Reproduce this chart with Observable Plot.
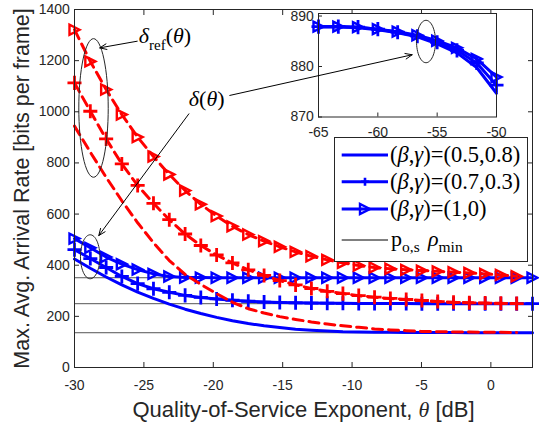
<!DOCTYPE html>
<html><head><meta charset="utf-8">
<script src="https://cdn.jsdelivr.net/npm/d3@7"></script>
<script src="https://cdn.jsdelivr.net/npm/@observablehq/plot@0.6"></script>
<style>
body{margin:0;background:#fff;}
#wrap{position:relative;width:539px;height:425px;overflow:hidden;background:#fff;}
#wrap > *{position:absolute;}
</style></head><body><div id="wrap"></div>
<script>
// ---------------- data ----------------
const theta = [-30, -28.86, -27.72, -26.59, -25.45, -24.31, -23.17, -22.03, -20.9, -19.76,
  -18.62, -17.48, -16.34, -15.21, -14.07, -12.93, -11.79, -10.66, -9.52, -8.38,
  -7.24, -6.1, -4.97, -3.83, -2.69, -1.55, -0.41, 0.72, 1.86, 3.0];
// delta(theta): blue
const blueA = [424, 388, 354, 323, 295, 270, 248, 228, 211, 196, 183, 172, 163, 156, 150, 146, 143, 140, 139, 138, 137.5, 137, 137, 136.5, 136.5, 136, 136, 136, 136, 136];
const blueB = [461, 426, 391, 356, 328, 308, 294, 282, 274, 268, 263, 259, 256, 254, 253, 252, 251.5, 251, 250.5, 250, 250, 250, 249.5, 249.5, 249.5, 249.5, 249.5, 249.5, 249.5, 249.5];
const blueC = [504, 468, 432, 404, 383, 366, 356, 352, 351.5, 351, 351, 351, 351, 351, 351, 351, 351, 351, 351, 351, 351, 351, 351, 351, 351, 351, 351, 351, 351, 351];
// delta_ref(theta): red (one point fewer)
const redA = [944, 842, 744, 652, 566, 488, 418, 364, 325, 289, 255, 230, 213, 199, 188, 178, 170, 163, 157, 151, 147, 144, 141, 140, 139, 138.5, 138, 137.5, 137];
const redB = [1113, 1002, 894, 796, 712, 642, 578, 522, 477, 440, 409, 382, 360, 340, 323, 309, 298, 289, 281, 275, 270, 266, 262, 258, 255, 253, 252, 251, 250];
const redC = [1321, 1197, 1087, 989, 901, 825, 755, 692, 638, 592, 552, 520, 494, 472, 452, 435, 421, 409, 399, 391, 386, 382, 379, 376, 373, 370, 366, 362, 357];
// p_os * rho_min levels
const rhoLevels = [136, 249.5, 351];
// inset
const insetTheta = [-65, -63.33, -61.67, -60, -58.33, -56.67, -55, -53.33, -51.67, -50];
const insetA = [887.9, 887.9, 887.7, 887.3, 886.7, 885.9, 884.5, 882.7, 879.8, 874.7];
const insetB = [887.9, 887.9, 887.8, 887.4, 886.8, 886.0, 884.8, 883.2, 880.7, 876.3];
const insetC = [887.9, 887.9, 887.8, 887.4, 886.9, 886.2, 885.1, 883.7, 881.5, 877.9];
// ticks & labels
const xTicks = [-30, -25, -20, -15, -10, -5, 0];
const yTicks = [0, 200, 400, 600, 800, 1000, 1200, 1400];
const insetXTicks = [-65, -60, -55, -50];
const insetYTicks = [870, 880, 890];
const xLabel = "Quality-of-Service Exponent, θ [dB]";
const yLabel = "Max. Avg. Arrival Rate [bits per frame]";
const legendLabels = ["(β,γ)=(0.5,0.8)", "(β,γ)=(0.7,0.3)", "(β,γ)=(1,0)", "p_o,s ρ_min"];
// annotations (data coordinates)
const annArrows = [
  {x1: -25.48, y1: 1276, x2: -28.18, y2: 1250},
  {x1: -18.81, y1: 1064, x2: -5.67, y2: 1223},
  {x1: -21.76, y1: 992, x2: -28.25, y2: 516}
];
const annLabels = [{x: -25.37, y: 1296, key: "δref(θ)"}, {x: -21.76, y: 1050, key: "δ(θ)"}];
const annEllipses = [{id: 0, cx: -28.63, cy: 1015, rx: 1.06, ry: 271}, {id: 1, cx: -28.87, cy: 433, rx: 0.70, ry: 86}];
const insetEllipse = [{id: 0, cx: -55.94, cy: 884.95, rx: 0.80, ry: 4.2}];

// ---------------- helpers ----------------
const BLUE = "#0000ff", RED = "#ff0000", INK = "#262626";
const rows = (xs, ys) => ys.map((v, i) => ({x: xs[i], y: v}));
const triRight = {draw(ctx, size) {const s = Math.sqrt(size / Math.PI) / 2; ctx.moveTo(s, 0); ctx.lineTo(-s, -s); ctx.lineTo(-s, s); ctx.closePath();}};
const ellipsePts = (els) => els.flatMap(e => d3.range(64).map(k => ({id: e.id, x: e.cx + e.rx * Math.cos(2 * Math.PI * k / 64), y: e.cy + e.ry * Math.sin(2 * Math.PI * k / 64)})));
const fmt = d => String(d);
const W = 539, H = 425, mL = 74, mR = 7, mT = 9, mB = 58;
const wrap = document.getElementById("wrap");

function seriesMarks(xs, ys, color, dashed, sym) {
  const d = rows(xs, ys);
  const m = [Plot.line(d, {x: "x", y: "y", stroke: color, strokeWidth: 3, strokeDasharray: dashed ? "10,6" : null})];
  if (sym === "plus") m.push(Plot.dot(d, {x: "x", y: "y", symbol: "plus", r: 4.6, stroke: color, strokeWidth: 2.8}));
  if (sym === "tri") m.push(Plot.dot(d, {x: "x", y: "y", symbol: triRight, r: 10, stroke: color, fill: "none", strokeWidth: 2.4}));
  return m;
}

// ---------------- main plot ----------------
const main = Plot.plot({
  width: W, height: H, marginLeft: mL, marginRight: mR, marginTop: mT, marginBottom: mB,
  x: {domain: [-30, 3]}, y: {domain: [0, 1400]},
  style: {fontFamily: "'Liberation Sans', Arial, sans-serif", background: "white", color: INK},
  marks: [
    Plot.ruleY(rhoLevels, {stroke: "#555", strokeWidth: 1}),
    ...seriesMarks(theta, blueA, BLUE, false, null),
    ...seriesMarks(theta, blueB, BLUE, false, "plus"),
    ...seriesMarks(theta, blueC, BLUE, false, "tri"),
    ...seriesMarks(theta, redA, RED, true, null),
    ...seriesMarks(theta, redB, RED, true, "plus"),
    ...seriesMarks(theta, redC, RED, true, "tri"),
    Plot.frame({stroke: INK, strokeWidth: 1}),
    Plot.axisX(xTicks, {anchor: "bottom", tickSize: -5, tickPadding: 17.4, fontSize: 14, tickFormat: fmt, label: null}),
    Plot.axisX(xTicks, {anchor: "top", tickSize: -5, tickFormat: () => "", label: null}),
    Plot.axisY(yTicks, {anchor: "left", tickSize: -5, tickPadding: 9.7, fontSize: 14, tickFormat: fmt, label: null}),
    Plot.axisY(yTicks, {anchor: "right", tickSize: -5, tickFormat: () => "", label: null}),
    Plot.text([xLabel], {text: d => d, frameAnchor: "bottom", textAnchor: "middle", lineAnchor: "middle", dy: 42.5, fontSize: 22, fill: INK}),
    Plot.text([yLabel], {text: d => d, frameAnchor: "left", textAnchor: "middle", lineAnchor: "middle", dx: -52, rotate: -90, fontSize: 21.5, fill: INK})
  ]
});
main.style.left = "0px"; main.style.top = "0px";
wrap.appendChild(main);
d3.select(main).selectAll("text").each(function () {
  if (this.textContent === xLabel) this.innerHTML = 'Quality-of-Service Exponent, <tspan font-family="Liberation Serif" font-style="italic">θ</tspan> [dB]';
});

// ---------------- inset ----------------
const inset = Plot.plot({
  width: 233, height: 140, marginLeft: 40, marginRight: 15, marginTop: 10, marginBottom: 26.5,
  x: {domain: [-65, -50]}, y: {domain: [870, 890.5]},
  style: {fontFamily: "'Liberation Sans', Arial, sans-serif", background: "transparent", color: INK},
  marks: [
    Plot.frame({fill: "white", stroke: null}),
    ...seriesMarks(insetTheta, insetA, BLUE, false, null),
    ...seriesMarks(insetTheta, insetB, BLUE, false, "plus"),
    ...seriesMarks(insetTheta, insetC, BLUE, false, "tri"),
    Plot.line(ellipsePts(insetEllipse), {x: "x", y: "y", z: "id", curve: "linear-closed", stroke: INK, strokeWidth: 1}),
    Plot.frame({stroke: INK, strokeWidth: 1}),
    Plot.axisX(insetXTicks, {anchor: "bottom", tickSize: -4, tickPadding: 14.5, fontSize: 14, tickFormat: fmt, label: null}),
    Plot.axisY(insetYTicks, {anchor: "left", tickSize: -4, tickPadding: 8.7, fontSize: 14, tickFormat: fmt, label: null})
  ]
});
inset.style.left = "278px"; inset.style.top = "2.5px";
wrap.appendChild(inset);

// ---------------- legend ----------------
const lg = d3.create("svg").attr("width", 194).attr("height", 125)
  .style("left", "334px").style("top", "137px").style("font-family", "'Liberation Serif', 'Times New Roman', serif");
lg.append("rect").attr("x", 0.5).attr("y", 0.5).attr("width", 193).attr("height", 124).attr("fill", "white").attr("stroke", INK);
const rowY = [18, 44.7, 72, 103];
const syms = [null, "plus", "tri"];
for (let i = 0; i < 3; i++) {
  const g = lg.append("g");
  g.append("line").attr("x1", 7.7).attr("x2", 54).attr("y1", rowY[i]).attr("y2", rowY[i]).attr("stroke", BLUE).attr("stroke-width", 3);
  if (syms[i] === "plus") g.append("path").attr("d", `M27,${rowY[i]}h8M31,${rowY[i] - 4}v8`).attr("stroke", BLUE).attr("stroke-width", 2.6);
  if (syms[i] === "tri") g.append("path").attr("d", `M36,${rowY[i]}L26,${rowY[i] - 5}L26,${rowY[i] + 5}Z`).attr("stroke", BLUE).attr("fill", "none").attr("stroke-width", 2.4);
  const t = g.append("text").attr("x", 56).attr("y", rowY[i] + 7.2).attr("font-size", 22.5).attr("fill", "black");
  const s = legendLabels[i];
  t.html(s.replace("β", '<tspan font-style="italic">β</tspan>').replace("γ", '<tspan font-style="italic">γ</tspan>'));
}
lg.append("line").attr("x1", 7.7).attr("x2", 54).attr("y1", rowY[3]).attr("y2", rowY[3]).attr("stroke", "black").attr("stroke-width", 1);
const [pBase, pSub, rhoBase, rhoSub] = legendLabels[3].replace(" ", "_").split("_");
lg.append("text").attr("x", 57).attr("y", rowY[3] + 6).attr("font-size", 22).attr("fill", "black")
  .html(`${pBase}<tspan font-size="15.5" dy="6">${pSub}</tspan><tspan x="94" dy="-6" font-style="italic">${rhoBase}</tspan><tspan font-size="15.5" dy="6">${rhoSub}</tspan>`);
wrap.appendChild(lg.node());

// ---------------- annotation overlay ----------------
const over = Plot.plot({
  width: W, height: H, marginLeft: mL, marginRight: mR, marginTop: mT, marginBottom: mB,
  x: {domain: [-30, 3], axis: null}, y: {domain: [0, 1400], axis: null},
  style: {fontFamily: "'Liberation Serif', 'Times New Roman', serif", background: "transparent", color: INK},
  marks: [
    Plot.line(ellipsePts(annEllipses), {x: "x", y: "y", z: "id", curve: "linear-closed", stroke: INK, strokeWidth: 1}),
    Plot.arrow(annArrows, {x1: "x1", y1: "y1", x2: "x2", y2: "y2", stroke: "black", strokeWidth: 1, headLength: 11, headAngle: 45}),
    Plot.text(annLabels, {x: "x", y: "y", text: "key", textAnchor: "start", lineAnchor: "middle", fontSize: 22, fill: "black"})
  ]
});
over.style.left = "0px"; over.style.top = "0px";
wrap.appendChild(over);
d3.select(over).selectAll("text").each(function () {
  if (this.textContent === "δref(θ)") this.innerHTML = '<tspan font-style="italic">δ</tspan><tspan font-size="15" dy="7">ref</tspan><tspan dy="-7">(</tspan><tspan font-style="italic">θ</tspan>)';
  else if (this.textContent === "δ(θ)") this.innerHTML = '<tspan font-style="italic">δ</tspan>(<tspan font-style="italic">θ</tspan>)';
});
</script></body></html>
